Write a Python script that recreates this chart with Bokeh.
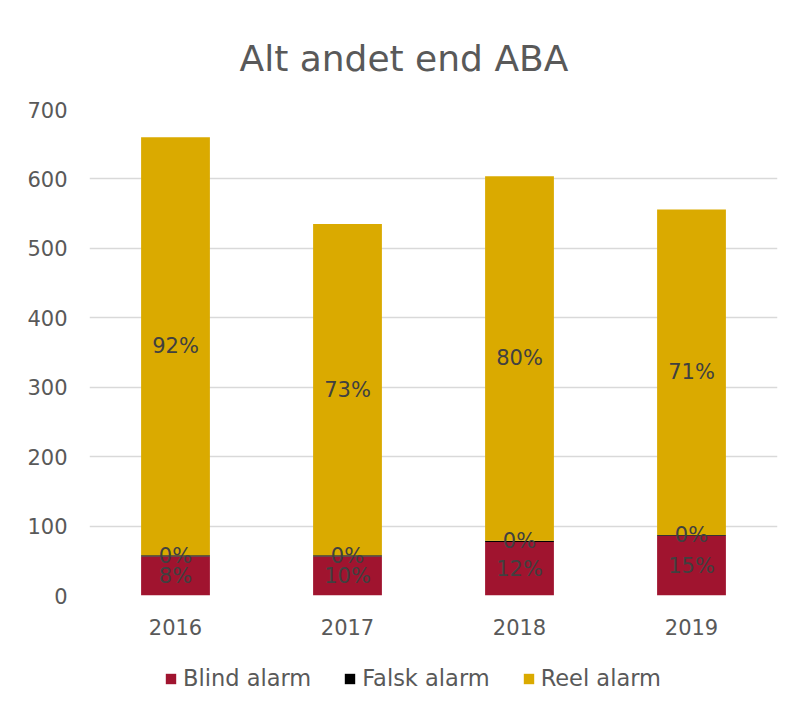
from bokeh.plotting import figure
from bokeh.layouts import column
from bokeh.models import ColumnDataSource, LabelSet, Legend, LegendItem, FixedTicker
from bokeh.core.properties import value
from bokeh.embed import file_html
from bokeh.resources import INLINE

years = ["2016", "2017", "2018", "2019"]
blind = [56, 56, 77, 86]
falsk = [2, 2, 2, 1]
reel = [602, 477, 525, 469]
blind_pct = ["8%", "10%", "12%", "15%"]
falsk_pct = ["0%", "0%", "0%", "0%"]
reel_pct = ["92%", "73%", "80%", "71%"]
series = ["Blind alarm", "Falsk alarm", "Reel alarm"]
colors = ["#A0142F", "#000000", "#DAAA00"]
y_ticks = [0, 100, 200, 300, 400, 500, 600, 700]

FONT = "DejaVu Sans"
TXT = "#595959"

src = ColumnDataSource(dict(
    year=years, blind=blind, falsk=falsk, reel=reel,
    blind_mid=[b / 2 for b in blind],
    falsk_mid=[b + f / 2 for b, f in zip(blind, falsk)],
    reel_mid=[b + f + r / 2 for b, f, r in zip(blind, falsk, reel)],
    blind_pct=blind_pct, falsk_pct=falsk_pct, reel_pct=reel_pct,
))

p = figure(x_range=years, y_range=(0, 700), width=794, height=655,
           output_backend="svg", toolbar_location=None,
           min_border_left=89, min_border_right=17, min_border_bottom=60,
           min_border_top=109)

renderers = p.vbar_stack(["blind", "falsk", "reel"], x="year", width=0.4,
                         color=colors, source=src, line_color=None)

p.title.text = "Alt andet end ABA"
p.title.align = "left"
p.title.offset = 150
p.title.text_font = FONT
p.title.text_font_size = "36px"
p.title.text_font_style = "normal"
p.title.text_color = TXT
p.title.standoff = 61

p.outline_line_color = None
p.xgrid.grid_line_color = None
p.ygrid.grid_line_color = "#D9D9D9"
p.ygrid.grid_line_width = 1.5
p.yaxis.ticker = FixedTicker(ticks=y_ticks)

for ax in (p.xaxis, p.yaxis):
    ax.axis_line_color = None
    ax.major_tick_line_color = None
    ax.minor_tick_line_color = None
    ax.major_label_text_font = FONT
    ax.major_label_text_font_size = "21px"
    ax.major_label_text_color = TXT
p.yaxis.major_label_standoff = 16
p.xaxis.major_label_standoff = 17

for col, ycol in (("blind_pct", "blind_mid"), ("falsk_pct", "falsk_mid"), ("reel_pct", "reel_mid")):
    p.add_layout(LabelSet(x="year", y=ycol, text=col, source=src,
                          text_align="center", text_baseline="middle",
                          text_font=value(FONT), text_font_size="21px",
                          text_color="#404040"))

# legend strip below the chart (frames are aligned with the chart's frame)
q = figure(width=794, height=48, x_range=(0, 1), y_range=(0, 1),
           output_backend="svg", toolbar_location=None,
           x_axis_location=None, y_axis_location=None,
           min_border_left=0, min_border_right=0, min_border_top=0, min_border_bottom=0)
q.grid.visible = False
q.outline_line_color = None
dummy = [q.vbar(x=[-5], bottom=[-6], top=[-5], width=0.1, color=c, line_color=None)
         for c in colors]
legend = Legend(items=[LegendItem(label=s, renderers=[r]) for s, r in zip(series, dummy)],
                orientation="horizontal", location=(75, 12),
                label_text_font=FONT, label_text_font_size="22.5px",
                label_text_color=TXT, glyph_width=13, glyph_height=13,
                spacing=32, label_standoff=6, border_line_color=None,
                background_fill_alpha=0, margin=0, padding=0)
q.add_layout(legend, "center")

layout = column(p, q, spacing=0)
open("out.html", "w").write(file_html(layout, INLINE))
